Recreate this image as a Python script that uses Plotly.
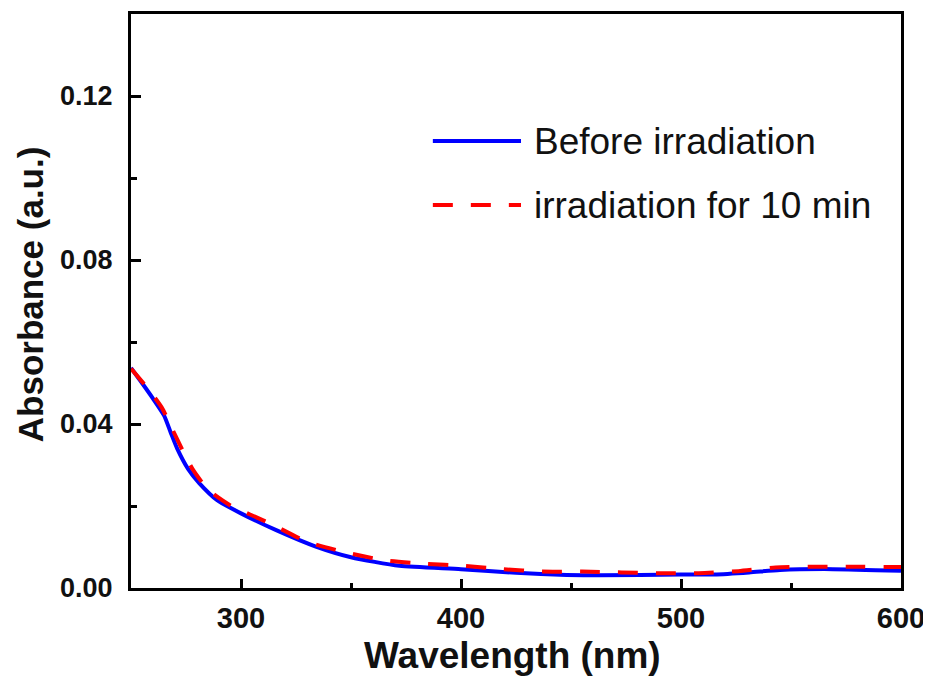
import plotly.graph_objects as go

# Wavelength (nm) and absorbance values
wl_before = [250, 255, 260, 265, 268, 271, 276, 281, 289, 300, 316, 334, 350, 372,
             400, 425, 448, 463, 500, 515, 531, 545, 569, 600]
abs_before = [0.0537, 0.0500, 0.0462, 0.0421, 0.0380, 0.0340, 0.0290, 0.0256, 0.0215,
              0.0182, 0.0141, 0.0101, 0.0075, 0.0054, 0.0046, 0.0037, 0.0032, 0.0031,
              0.0033, 0.0033, 0.0038, 0.0044, 0.0046, 0.0042]

wl_after = [250, 258, 264, 269, 274, 278, 285, 295, 313, 330, 349, 366, 384, 401,
            419, 437, 455, 473, 490, 508, 526, 543, 562, 579, 600]
abs_after = [0.0535, 0.0484, 0.0440, 0.0385, 0.0330, 0.0290, 0.0240, 0.0202, 0.0158,
             0.0113, 0.0085, 0.0067, 0.0059, 0.0054, 0.0046, 0.0040, 0.0040, 0.0038,
             0.0036, 0.0036, 0.0041, 0.0050, 0.0052, 0.0052, 0.0051]

series_names = ["Before irradiation", "irradiation for 10 min"]
x_ticks = [300, 400, 500, 600]
y_ticks = [0.00, 0.04, 0.08, 0.12]
x_title = "Wavelength (nm)"
y_title = "Absorbance (a.u.)"

FONT = "Liberation Sans, Arial, sans-serif"
BLUE = "#0000FF"
RED = "#FF0000"
DASH = "20px,18px"

fig = go.Figure()
fig.add_trace(go.Scatter(x=wl_before, y=abs_before, mode="lines", name=series_names[0],
                         line=dict(color=BLUE, width=4, shape="spline", smoothing=0.6),
                         showlegend=False))
fig.add_trace(go.Scatter(x=wl_after, y=abs_after, mode="lines", name=series_names[1],
                         line=dict(color=RED, width=4, dash=DASH, shape="spline", smoothing=0.6),
                         showlegend=False))

# Manual legend (long line samples as in the reference)
legend_rows = [(0.7787, BLUE, "solid"), (0.6672, RED, DASH)]
for (ypos, col, dsh), name in zip(legend_rows, series_names):
    fig.add_shape(type="line", xref="paper", yref="paper", x0=0.392, x1=0.5065,
                  y0=ypos, y1=ypos, line=dict(color=col, width=4, dash=dsh))
    fig.add_annotation(xref="paper", yref="paper", x=0.521, y=ypos, text=name,
                       showarrow=False, xanchor="left", yanchor="middle",
                       font=dict(family=FONT, size=37, color="#111111"))

# Axis titles placed as annotations
fig.add_annotation(xref="paper", yref="paper", x=-0.131, y=0.512, text=y_title,
                   textangle=-90, showarrow=False, xanchor="center", yanchor="middle",
                   font=dict(family=FONT, size=35, weight="bold", color="#111111"))
fig.add_annotation(xref="paper", yref="paper", x=0.495, y=-0.118, text=x_title,
                   showarrow=False, xanchor="center", yanchor="middle",
                   font=dict(family=FONT, size=37, weight="bold", color="#111111"))

fig.update_layout(
    width=923, height=669,
    margin=dict(l=123, r=30, t=6, b=89, autoexpand=False),
    paper_bgcolor="white", plot_bgcolor="white",
    font=dict(family=FONT, color="#111111"),
)
fig.update_xaxes(
    automargin=False,
    range=[250, 600], tickvals=x_ticks, ticktext=[str(v) for v in x_ticks],
    ticks="inside", ticklen=9, tickwidth=3, tickcolor="black",
    minor=dict(tickvals=[250, 350, 450, 550], ticks="inside", ticklen=5, tickwidth=3, tickcolor="black"),
    showline=True, linewidth=3, linecolor="black", mirror=True,
    showgrid=False, zeroline=False,
    tickfont=dict(family=FONT, size=29, weight="bold", color="#111111"),
    ticklabelstandoff=2, ticklabeloverflow="allow",
)
fig.update_yaxes(
    automargin=False,
    range=[0, 0.14], tickvals=y_ticks, ticktext=["%.2f" % v for v in y_ticks],
    ticks="inside", ticklen=10, tickwidth=3, tickcolor="black",
    minor=dict(tickvals=[0.02, 0.06, 0.10], ticks="inside", ticklen=6, tickwidth=3, tickcolor="black"),
    showline=True, linewidth=3, linecolor="black", mirror=True,
    showgrid=False, zeroline=False,
    tickfont=dict(family=FONT, size=27, weight="bold", color="#111111"),
    ticklabelstandoff=10, ticklabeloverflow="allow",
)

fig.write_html("out.html")
